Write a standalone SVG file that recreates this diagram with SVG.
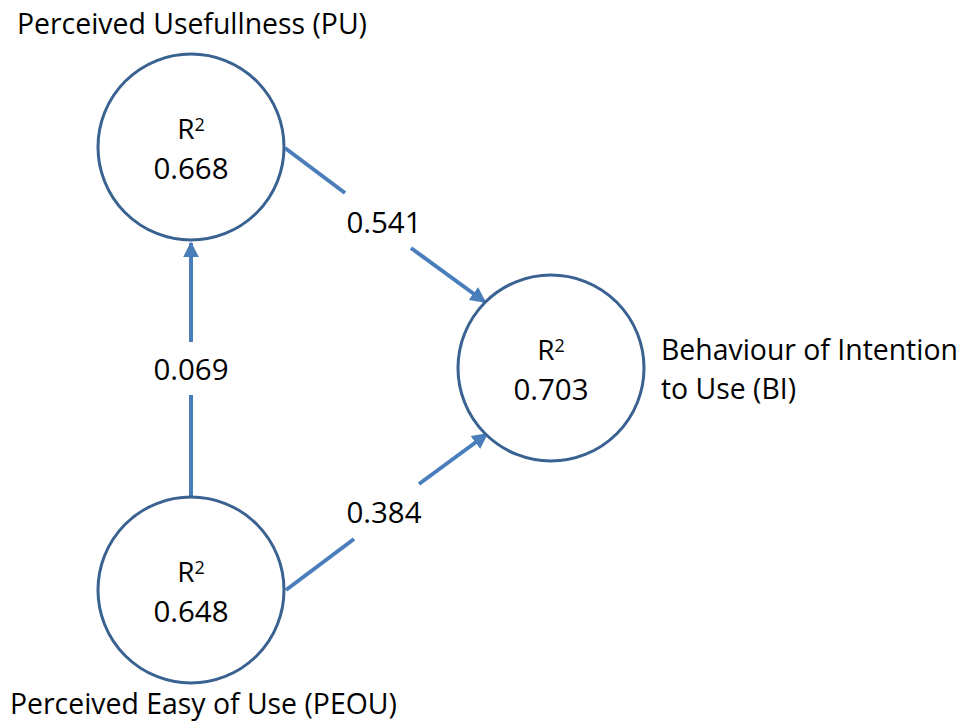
<svg xmlns="http://www.w3.org/2000/svg" width="961" height="722" viewBox="0 0 961 722">
<style>
.node{fill:#fff;stroke:#3a6291;stroke-width:3}
.conn{stroke:#4a7ebb;stroke-width:4;fill:none}
text{font-family:"Open Sans","Noto Sans",sans-serif;font-size:28.4px;fill:#000}
.n{font-size:29.5px}
.r{font-size:28px}
.c{text-anchor:middle}
.sup{font-size:18px}
</style>
<defs>
<marker id="ah" viewBox="0 0 10 10" refX="9" refY="5" markerWidth="4" markerHeight="4" orient="auto" markerUnits="strokeWidth">
<path d="M0,0 L10,5 L0,10 z" fill="#4a7ebb"/>
</marker>
</defs>
<rect width="961" height="722" fill="#fff"/>
<g id="connectors">
<path class="conn" d="M191,497 L191,395"/>
<path class="conn" d="M191,342 L191,243" marker-end="url(#ah)"/>
<path class="conn" d="M285,148 L345,193"/>
<path class="conn" d="M411,248 L485,302" marker-end="url(#ah)"/>
<path class="conn" d="M286,590 L354,539"/>
<path class="conn" d="M419,484 L487,434" marker-end="url(#ah)"/>
<text class="c n" x="384" y="233">0.541</text>
<text class="c n" x="191" y="380">0.069</text>
<text class="c n" x="384" y="523">0.384</text>
</g>
<g id="PU">
<circle class="node" cx="191" cy="147" r="93"/>
<text class="c r" x="191" y="139">R<tspan class="sup" dy="-8">2</tspan></text>
<text class="c n" x="191" y="179">0.668</text>
<text x="17" y="34">Perceived Usefullness (PU)</text>
</g>
<g id="PEOU">
<circle class="node" cx="191" cy="590" r="93"/>
<text class="c r" x="191" y="582">R<tspan class="sup" dy="-8">2</tspan></text>
<text class="c n" x="191" y="622">0.648</text>
<text x="10" y="714">Perceived Easy of Use (PEOU)</text>
</g>
<g id="BI">
<circle class="node" cx="551" cy="368" r="93"/>
<text class="c r" x="551" y="360">R<tspan class="sup" dy="-8">2</tspan></text>
<text class="c n" x="551" y="400">0.703</text>
<text x="661" y="360">Behaviour of Intention</text>
<text x="661" y="399">to Use (BI)</text>
</g>
</svg>
